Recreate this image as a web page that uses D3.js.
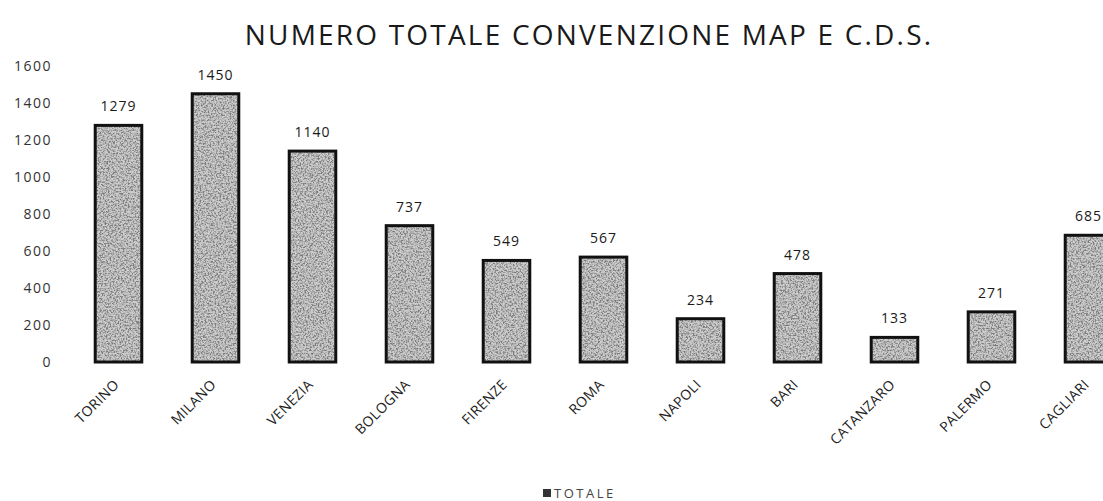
<!DOCTYPE html>
<html>
<head>
<meta charset="utf-8">
<script src="https://cdn.jsdelivr.net/npm/d3@7"></script>
<style>
  body { margin: 0; background: #fff; }
  text { font-family: "Open Sans", "DejaVu Sans", sans-serif; }
</style>
</head>
<body>
<script>
// data
const cities = ["TORINO", "MILANO", "VENEZIA", "BOLOGNA", "FIRENZE", "ROMA",
                "NAPOLI", "BARI", "CATANZARO", "PALERMO", "CAGLIARI"];
const totals = [1279, 1450, 1140, 737, 549, 567, 234, 478, 133, 271, 685];
const yTicks = [0, 200, 400, 600, 800, 1000, 1200, 1400, 1600];
const seriesName = "TOTALE";
const titleText = "NUMERO TOTALE CONVENZIONE MAP E C.D.S.";

const svgWidth = 1103;
const svgHeight = 501;

const svg = d3.select("body").append("svg")
              .attr("width", svgWidth)
              .attr("height", svgHeight);

// noisy scanned-looking fill
const defs = svg.append("defs");
const filter = defs.append("filter")
                   .attr("id", "grain")
                   .attr("filterUnits", "userSpaceOnUse")
                   .attr("x", 0).attr("y", 0)
                   .attr("width", svgWidth).attr("height", svgHeight);
filter.append("feTurbulence")
      .attr("type", "fractalNoise")
      .attr("baseFrequency", 0.6)
      .attr("numOctaves", 4)
      .attr("seed", 7)
      .attr("result", "noise");
filter.append("feColorMatrix")
      .attr("in", "noise")
      .attr("type", "matrix")
      .attr("values", "0 0 0 0 0.2 " +
                      "0 0 0 0 0.2 " +
                      "0 0 0 0 0.2 " +
                      "3.4 0 0 0 -1.35")
      .attr("result", "grey");
filter.append("feComposite")
      .attr("in", "grey")
      .attr("in2", "SourceGraphic")
      .attr("operator", "in")
      .attr("result", "grain");
let merge = filter.append("feMerge");
merge.append("feMergeNode").attr("in", "SourceGraphic");
merge.append("feMergeNode").attr("in", "grain");

const xScale = d3.scaleBand()
                 .domain(cities)
                 .range([70, 1137])
                 .paddingInner(0.52)
                 .paddingOuter(0.26);
const yScale = d3.scaleLinear()
                 .domain([0, 1600])
                 .range([362, 66]);

// title
svg.append("text")
   .attr("x", 589)
   .attr("y", 45)
   .attr("text-anchor", "middle")
   .attr("font-size", 28)
   .attr("letter-spacing", 2.2)
   .attr("fill", "#1a1a1a")
   .text(titleText);

// y axis labels only
const yAxis = d3.axisLeft(yScale).tickValues(yTicks).tickFormat(d3.format("d"))
                .tickSize(0).tickPadding(0);
const gy = svg.append("g")
              .attr("transform", "translate(52,0)")
              .call(yAxis);
gy.select(".domain").remove();
gy.selectAll("text")
  .attr("font-size", 14)
  .attr("letter-spacing", 1.5)
  .attr("fill", "#333")
  .style("font-family", "'Open Sans', sans-serif");

// bars
svg.selectAll("rect.bar")
   .data(totals)
   .enter().append("rect")
   .attr("class", "bar")
   .attr("x", (d, i) => xScale(cities[i]))
   .attr("y", d => yScale(d))
   .attr("width", xScale.bandwidth())
   .attr("height", d => yScale(0) - yScale(d))
   .attr("fill", "#cdcdcd")
   .style("filter", "url(#grain)");
svg.selectAll("rect.outline")
   .data(totals)
   .enter().append("rect")
   .attr("class", "outline")
   .attr("x", (d, i) => xScale(cities[i]))
   .attr("y", d => yScale(d))
   .attr("width", xScale.bandwidth())
   .attr("height", d => yScale(0) - yScale(d))
   .attr("fill", "none")
   .attr("stroke", "#111")
   .attr("stroke-width", 3);

// value labels
svg.selectAll("text.value")
   .data(totals)
   .enter().append("text")
   .attr("class", "value")
   .attr("x", (d, i) => xScale(cities[i]) + xScale.bandwidth() / 2)
   .attr("y", d => yScale(d) - 14)
   .attr("text-anchor", "middle")
   .attr("font-size", 14)
   .attr("letter-spacing", 1)
   .attr("fill", "#1a1a1a")
   .text(d => d);

// category labels
const xAxis = d3.axisBottom(xScale).tickSize(0).tickPadding(0);
const gx = svg.append("g")
              .attr("transform", "translate(0,376)")
              .call(xAxis);
gx.select(".domain").remove();
gx.selectAll("text")
  .attr("text-anchor", "end")
  .attr("font-size", 14)
  .attr("letter-spacing", 0.4)
  .attr("fill", "#222")
  .attr("dy", "0.35em")
  .attr("transform", "translate(-2,6) rotate(-45)")
  .style("font-family", "'Open Sans', sans-serif");

// legend
const legend = svg.append("g").attr("transform", "translate(543,493)");
legend.append("rect")
      .attr("x", 0).attr("y", -4)
      .attr("width", 8).attr("height", 8)
      .attr("fill", "#333");
legend.append("text")
      .attr("x", 11)
      .attr("y", 0)
      .attr("dy", "0.35em")
      .attr("font-size", 13)
      .attr("letter-spacing", 2.5)
      .attr("fill", "#444")
      .text(seriesName);
</script>
</body>
</html>
